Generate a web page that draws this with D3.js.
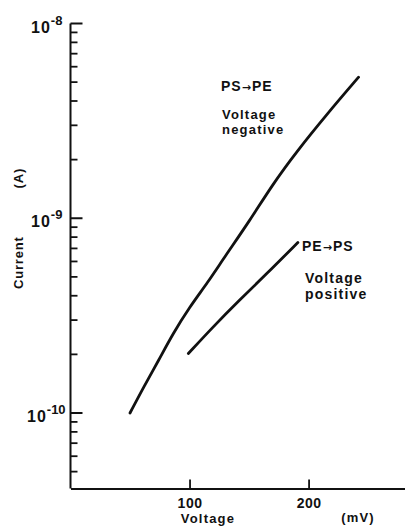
<!DOCTYPE html>
<html>
<head>
<meta charset="utf-8">
<script src="https://cdn.jsdelivr.net/npm/d3@7"></script>
<style>
  body { margin: 0; background: #fff; }
  text { font-family: "Liberation Sans", Arial, sans-serif; font-weight: bold; fill: #111; }
  .arrow { font-family: "DejaVu Sans", sans-serif; }
</style>
</head>
<body>
<div id="chart"></div>
<script>
// PS -> PE, voltage negative
const negVoltage = [50, 62, 74, 86, 100, 115, 130, 150, 170, 190, 215, 242];
const negCurrent = [1.0e-10, 1.38e-10, 1.86e-10, 2.55e-10, 3.5e-10, 4.65e-10, 6.4e-10,
                    9.6e-10, 1.5e-9, 2.2e-9, 3.4e-9, 5.3e-9];
// PE -> PS, voltage positive
const posVoltage = [99, 120, 142, 165, 191];
const posCurrent = [2.02e-10, 2.78e-10, 3.8e-10, 5.2e-10, 7.5e-10];

const xTicks = [100, 200];
const majorExp = [-8, -9, -10];

const width = 405, height = 526;

const svg = d3.select("#chart")
    .append("svg")
    .attr("width", width)
    .attr("height", height);

const x = d3.scaleLinear().domain([0, 281]).range([70.5, 405]);
const y = d3.scaleLog().domain([1e-10, 1e-8]).range([413, 23.5]);
const yBottom = 488.5;
const yMin = y.invert(yBottom);

// minor + major log ticks
let minor = [];
for (let k = -11; k <= -9; k++) {
    for (let m = 2; m <= 9; m++) {
        const v = m * Math.pow(10, k);
        if (v > yMin && v < 1e-8) minor.push(v);
    }
}
const major = majorExp.map(e => Math.pow(10, e));

svg.append("line")
    .attr("x1", x(0)).attr("x2", x(0))
    .attr("y1", y(1e-8)).attr("y2", yBottom)
    .attr("stroke", "#111").attr("stroke-width", 2);

svg.selectAll(".minor")
    .data(minor)
    .join("line")
    .attr("x1", x(0)).attr("x2", x(0) + 7)
    .attr("y1", d => y(d)).attr("y2", d => y(d))
    .attr("stroke", "#111").attr("stroke-width", 1.8);

svg.selectAll(".major")
    .data(major)
    .join("line")
    .attr("x1", x(0)).attr("x2", x(0) + 12)
    .attr("y1", d => y(d)).attr("y2", d => y(d))
    .attr("stroke", "#111").attr("stroke-width", 2);

const yl = svg.selectAll(".ylab")
    .data(majorExp)
    .join("text")
    .attr("x", d => d == -10 ? 27 : 31)
    .attr("y", d => y(Math.pow(10, d)) + 9)
    .attr("font-size", 16).attr("font-weight", "normal").attr("letter-spacing", 1);
yl.append("tspan").text("10");
yl.append("tspan").attr("dy", -8).attr("font-size", 13).attr("font-weight", "bold")
    .attr("letter-spacing", 0).text(d => d);

// x axis
const xAxis = svg.append("g")
    .attr("transform", `translate(0,${yBottom})`)
    .call(d3.axisBottom(x).tickValues(xTicks).tickSizeInner(-9).tickSizeOuter(0).tickPadding(10));
xAxis.select(".domain").attr("stroke", "#111").attr("stroke-width", 2);
xAxis.selectAll(".tick line").attr("stroke", "#111").attr("stroke-width", 1.8);
xAxis.selectAll(".tick text")
    .attr("font-size", 14).attr("font-family", "Liberation Sans, Arial, sans-serif")
    .attr("font-weight", "bold").attr("fill", "#111").attr("letter-spacing", 0.5);

svg.append("text").attr("x", 208).attr("y", 523).attr("text-anchor", "middle")
    .attr("font-size", 13).attr("letter-spacing", 1.2).text("Voltage");
svg.append("text").attr("x", 358).attr("y", 522).attr("text-anchor", "middle")
    .attr("font-size", 13).attr("letter-spacing", 1.2).text("(mV)");

svg.append("text")
    .attr("transform", "translate(23,289) rotate(-90)")
    .attr("font-size", 13).attr("letter-spacing", 0.8)
    .text("Current")
  .append("tspan").attr("dx", 48).text("(A)");

// curves
const line = d3.line()
    .x(d => x(d[0]))
    .y(d => y(d[1]))
    .curve(d3.curveBasis);

svg.append("path")
    .datum(d3.zip(negVoltage, negCurrent))
    .attr("d", line)
    .attr("fill", "none").attr("stroke", "#111").attr("stroke-width", 2.8)
    .attr("stroke-linecap", "round");

svg.append("path")
    .datum(d3.zip(posVoltage, posCurrent))
    .attr("d", line)
    .attr("fill", "none").attr("stroke", "#111").attr("stroke-width", 2.8)
    .attr("stroke-linecap", "round");

// annotations
const arrows = [
    {a: "PS", b: "PE", x: 221, y: 91},
    {a: "PE", b: "PS", x: 302, y: 251}
];
const arrowText = svg.selectAll(".arr")
    .data(arrows)
    .join("text")
    .attr("x", d => d.x).attr("y", d => d.y)
    .attr("font-size", 14).attr("letter-spacing", 1);
arrowText.append("tspan").text(d => d.a);
arrowText.append("tspan").attr("class", "arrow").attr("font-size", 11).text("\u2192");
arrowText.append("tspan").text(d => d.b);

const notes = [
    {t: "Voltage", x: 222, y: 119, s: 13},
    {t: "negative", x: 222, y: 134, s: 13},
    {t: "Voltage", x: 305, y: 283, s: 14},
    {t: "positive", x: 305, y: 299, s: 14}
];
svg.selectAll(".note")
    .data(notes)
    .join("text")
    .attr("x", d => d.x).attr("y", d => d.y)
    .attr("font-size", d => d.s).attr("letter-spacing", 1.2)
    .text(d => d.t);
</script>
</body>
</html>
